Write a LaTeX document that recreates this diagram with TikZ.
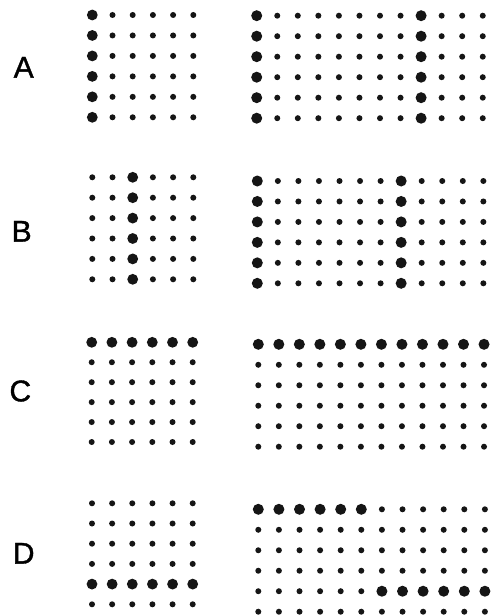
\documentclass[tikz,border=0pt]{standalone}
\usepackage{fontspec}
\setmainfont{Liberation Sans}
\newfontfamily\labfont[FakeBold=1.2]{Liberation Sans}
\definecolor{dotcol}{HTML}{151515}
\tikzset{
  lab/.style={inner sep=0pt, font=\labfont\fontsize{30}{30}\selectfont, text=black},
  dotfill/.style={fill=dotcol}
}
% #1 x0, #2 y0, #3 dx, #4 dy, #5 last column index, #6 big condition (in \c,\r), #7 big radius
\newcommand\dotpanel[7]{%
  \foreach \c in {0,...,#5}{%
    \foreach \r in {0,...,5}{%
      \pgfmathtruncatemacro\isbig{(#6)?1:0}%
      \ifnum\isbig=1
        \fill[dotfill] ({#1+\c*#3},{#2+\r*#4}) circle (#7);
      \else
        \fill[dotfill] ({#1+\c*#3},{#2+\r*#4}) circle (3pt);
      \fi
    }%
  }%
}
\begin{document}
\begin{tikzpicture}[x=1pt,y=-1pt]
\path[use as bounding box, clip] (0,0) rectangle (492,615);
\fill[white] (0,0) rectangle (492,615);
% labels
\node[lab] (labA) at (23.7,67.3) {A};
\node[lab] (labB) at (21.7,231.3) {B};
\node[lab] (labC) at (20.3,391) {C};
\node[lab] (labD) at (23.7,553.3) {D};
% panel A
\dotpanel{92.3}{15}{20.2}{20.46}{5}{\c==0}{5.4pt}
\dotpanel{256.7}{15.7}{20.55}{20.5}{11}{\c==0 || \c==8}{5.5pt}
% panel B
\dotpanel{92.3}{177.3}{20.2}{20.4}{5}{\c==2}{5.4pt}
\dotpanel{257.3}{181}{20.55}{20.46}{11}{\c==0 || \c==7}{5.5pt}
% panel C
\dotpanel{91.7}{342.3}{20.2}{19.94}{5}{\r==0}{5.4pt}
\dotpanel{258.3}{344.3}{20.52}{20.48}{11}{\r==0}{5.5pt}
% panel D
\dotpanel{92}{503.3}{20.14}{20.2}{5}{\r==4}{5.4pt}
\dotpanel{258.3}{509.3}{20.6}{20.48}{11}{(\r==0 && \c<6) || (\r==4 && \c>5)}{5.5pt}
\end{tikzpicture}
\end{document}
